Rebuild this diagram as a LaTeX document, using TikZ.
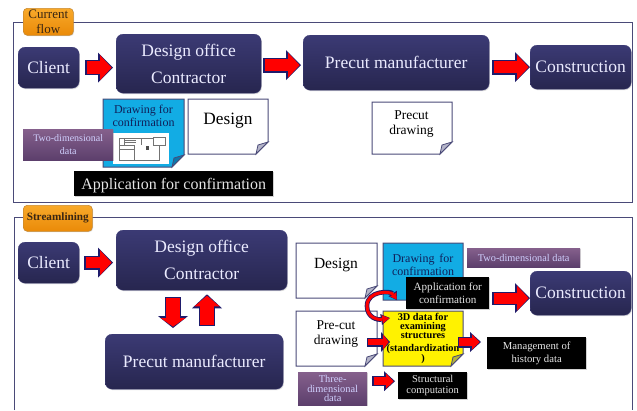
\documentclass[tikz,border=0pt]{standalone}
\usepackage{fontspec}
\setmainfont{Liberation Serif}
\usetikzlibrary{arrows.meta,shadows,calc}
\definecolor{navy}{HTML}{1F1B6B}
\definecolor{frameblue}{HTML}{4A4A78}
\definecolor{boxtop}{HTML}{3B3A74}
\definecolor{boxbot}{HTML}{27264F}
\definecolor{docblue}{HTML}{12ACE4}
\definecolor{foldgray}{HTML}{B4B4C8}
\definecolor{foldblue}{HTML}{0B78AC}
\definecolor{foldyellow}{HTML}{B4B43C}
\definecolor{purptop}{HTML}{85608C}
\definecolor{purpbot}{HTML}{5C3F6C}
\definecolor{tagtop}{HTML}{F8A92A}
\definecolor{tagbot}{HTML}{EA8A08}
\definecolor{tagedge}{HTML}{C98A30}
\definecolor{bluetext}{HTML}{10205A}
\newcommand{\fs}[2]{\fontsize{#1}{#2}\selectfont}
\newcommand{\fatarrow}[5]{%
  \draw[navy,line width=#1pt,-{Triangle[length=#3pt,width=#2pt,line width=0pt]}] #4 -- #5;
  \draw[red,line width=#1pt-2.4pt,shorten <=1.2pt,shorten >=1.4pt,-{Triangle[length=#3pt-3.4pt,width=#2pt-5pt,line width=0pt]}] #4 -- #5;}
\tikzset{
  x=1pt,y=-1pt,
  panel/.style={draw=frameblue,line width=1pt},
  tagbox/.style={draw=tagedge,line width=.6pt,rounded corners=4pt,top color=tagtop,bottom color=tagbot,
    drop shadow={opacity=.3,shadow xshift=.8pt,shadow yshift=-.8pt},text=black!70!brown,align=center,inner sep=0pt},
  darkbox/.style={rounded corners=7pt,top color=boxtop,bottom color=boxbot,text=white!92!blue,align=center,inner sep=0pt,
    draw=boxtop,line width=.3pt,drop shadow={opacity=.3,shadow xshift=.8pt,shadow yshift=-1pt},font=\fs{17.5}{27}},
  purplebox/.style={top color=purptop,bottom color=purpbot,draw=none,
    text=white!82!blue,align=center,inner sep=0pt,drop shadow={opacity=.3,shadow xshift=.8pt,shadow yshift=-.8pt}},
  blackbox/.style={fill=black,text=white!90!black,align=center,inner sep=0pt,
    drop shadow={opacity=.35,shadow xshift=.8pt,shadow yshift=-.8pt}},
  doclabel/.style={align=center,inner sep=0pt,text=black},
}
% #1 name, #2 x1, #3 y1, #4 x2, #5 y2, #6 fill, #7 fold fill
\newcommand{\paper}[7]{%
  \draw[draw=frameblue,line width=1pt,fill=#6] (#2,#3) -- (#4,#3) -- (#4,#5-12) -- (#4-12,#5) -- (#2,#5) -- cycle;
  \draw[draw=frameblue,line width=.8pt,fill=#7] (#4,#5-12) -- (#4-10,#5-9) -- (#4-12,#5) -- cycle;
  \coordinate (#1) at ({(#2+#4)/2},{(#3+#5)/2});}
% #1 name #2 x1 #3 y1 #4 x2 #5 y2 #6 style #7 text
\newcommand{\bx}[7]{\node[#6,minimum width=#4pt-#2pt,minimum height=#5pt-#3pt,anchor=north west] (#1) at (#2,#3) {#7};}
\begin{document}
\begin{tikzpicture}
\useasboundingbox (0,0) rectangle (637,410);
\fill[white] (0,0) rectangle (637,410);
% panels
\draw[panel] (13,22) rectangle (632,202);
\draw[panel] (14,410) -- (14,217) -- (632,217) -- (632,410);
\bx{tagA}{23}{8}{73}{35}{tagbox,font=\fs{13}{15}}{Current\\flow}
\bx{tagB}{23}{205}{92}{231}{tagbox,font=\bfseries\fs{11.2}{13}}{Streamlining}
% upper row
\bx{clientA}{18}{47}{79}{88}{darkbox}{Client}
\bx{designA}{116}{34}{261}{93}{darkbox}{Design office\\Contractor}
\bx{precutA}{303}{35}{489}{90}{darkbox}{Precut manufacturer}
\bx{constrA}{530}{45}{631}{89}{darkbox}{Construction}
\fatarrow{15}{30}{15}{([xshift=6pt]clientA.east)}{([xshift=-3pt]clientA.east -| designA.west)}
\fatarrow{15}{30}{15}{([shift={(2pt,-1.5pt)}]designA.east)}{([shift={(-2pt,-1.5pt)}]designA.east -| precutA.west)}
\fatarrow{15}{30}{15}{([shift={(3pt,-4.5pt)}]precutA.east)}{([yshift=-4.5pt]precutA.east -| constrA.west)}
% upper documents
\paper{docA}{103}{99}{184}{167}{docblue}{foldblue}
\node[doclabel,text=bluetext,font=\fs{12}{13.5}] (docAt) at (143.5,116) {Drawing for\\confirmation};
\fill[white] (113,133) rectangle (169,164);
\begin{scope}[draw=black!55,line width=.4pt]
\draw (119,138) -- (119,160) -- (159,160) -- (159,145);
\draw (119,138) -- (141,138) -- (141,145);
\draw (119,138) rectangle (124,145);
\draw (124,140) -- (136,140) (124,142) -- (136,142) (124,145) -- (135,145);
\draw (153,137) rectangle (165,145);
\draw (134,145) -- (134,160) (119,149) -- (134,149);
\draw (141,138) -- (153,138);
\fill[black!70] (146,146) rectangle (149,150);
\end{scope}
\bx{purpA}{23}{129}{113}{160}{purplebox,font=\fs{10}{12.5}}{Two-dimensional\\data}
\paper{docB}{188}{99}{268}{154}{white}{foldgray}
\node[doclabel,font=\fs{17.3}{20}] (docBt) at (228,121) {Design};
\bx{appA}{74}{171}{273}{196}{blackbox,font=\fs{16}{18}}{\rule{0pt}{15pt}Application for confirmation}
\paper{docC}{372}{102}{452}{154}{white}{foldgray}
\node[doclabel,font=\fs{13.5}{15}] (docCt) at (411.5,124) {Precut\\drawing};
% lower left
\bx{clientB}{18}{242}{79}{283}{darkbox}{Client}
\bx{designB}{116}{230}{287}{290}{darkbox}{Design office\\Contractor}
\bx{precutB}{105}{334}{283}{389}{darkbox}{Precut manufacturer}
\fatarrow{14}{30}{15}{([xshift=5pt]clientB.east)}{([xshift=-3pt]clientB.east -| designB.west)}
\coordinate (dnS) at (173,290);
\coordinate (upS) at (207,334);
\fatarrow{16}{30}{12}{([yshift=-7pt]dnS)}{([yshift=6pt]dnS |- precutB.north)}
\fatarrow{16}{30}{14}{([yshift=8pt]upS)}{([yshift=-4pt]upS |- designB.south)}
% lower right documents
\paper{docD}{296}{243}{377}{298}{white}{foldgray}
\node[doclabel,font=\fs{15.5}{18}] (docDt) at (336,265) {Design};
\paper{docE}{383}{243}{463}{300}{docblue}{foldblue}
\node[doclabel,text=bluetext,font=\fs{12}{13.5}] (docEt) at (423,265) {Drawing\, for\\confirmation};
\bx{purpB}{467}{248}{580}{267}{purplebox,font=\fs{10.3}{12}}{Two-dimensional data}
\bx{appB}{406}{277}{489}{309}{blackbox,font=\fs{11.1}{13}}{Application for\\confirmation}
\bx{constrB}{530}{271}{631}{315}{darkbox}{Construction}
\fatarrow{13}{30}{15}{([shift={(3pt,-5pt)}]appB.east)}{([yshift=-5pt]appB.east -| constrB.west)}
\paper{docF}{296}{311}{377}{366}{white}{foldgray}
\node[doclabel,font=\fs{13.5}{15}] (docFt) at (336,334) {Pre-cut\\drawing};
\paper{docG}{383}{311}{463}{366}{yellow}{foldyellow}
\node[doclabel,font=\bfseries\fs{10.3}{9.3}] (docGt) at (423,338.5) {3D data for\\examining\\structures\\[3.5pt](standardization\\)};
\bx{mgmt}{487}{337}{586}{369}{blackbox,font=\fs{10.7}{12.5}}{Management of\\history data}
\bx{purpC}{298}{372}{367}{405}{purplebox,font=\fs{10.4}{9.4}}{Three-\\dimensional\\data}
\bx{struct}{398}{372}{467}{399}{blackbox,font=\fs{10.5}{11.5}}{Structural\\computation}
% small connectors
\fatarrow{9}{20}{9}{([shift={(30.5pt,-3.5pt)}]docF)}{([shift={(-33pt,-3.5pt)}]docG)}
\fatarrow{11}{20}{11}{([shift={(35pt,-3.5pt)}]docG)}{([shift={(-6pt,-3.5pt)}]docG -| mgmt.west)}
\fatarrow{10}{20}{11}{([shift={(5pt,7.5pt)}]purpC.east)}{([shift={(-3pt,7.5pt)}]purpC.east -| struct.west)}
% curved loop connector
\coordinate (loopS) at ([shift={(-9pt,-7pt)}]appB.west);
\coordinate (loopE) at ([shift={(-33pt,20.5pt)}]docG);
\draw[navy,line width=4.6pt,{Triangle[length=8pt,width=10pt,line width=0pt]}-{Triangle[length=9pt,width=11pt,line width=0pt]}]
  (loopS) .. controls (391,291) and (367,290) .. (367,306) .. controls (367,318) and (378,320) .. (loopE);
\draw[red,line width=3pt,shorten <=.8pt,shorten >=.8pt,{Triangle[length=6pt,width=7.5pt,line width=0pt]}-{Triangle[length=7pt,width=8.5pt,line width=0pt]}]
  (loopS) .. controls (391,291) and (367,290) .. (367,306) .. controls (367,318) and (378,320) .. (loopE);
\end{tikzpicture}
\end{document}
